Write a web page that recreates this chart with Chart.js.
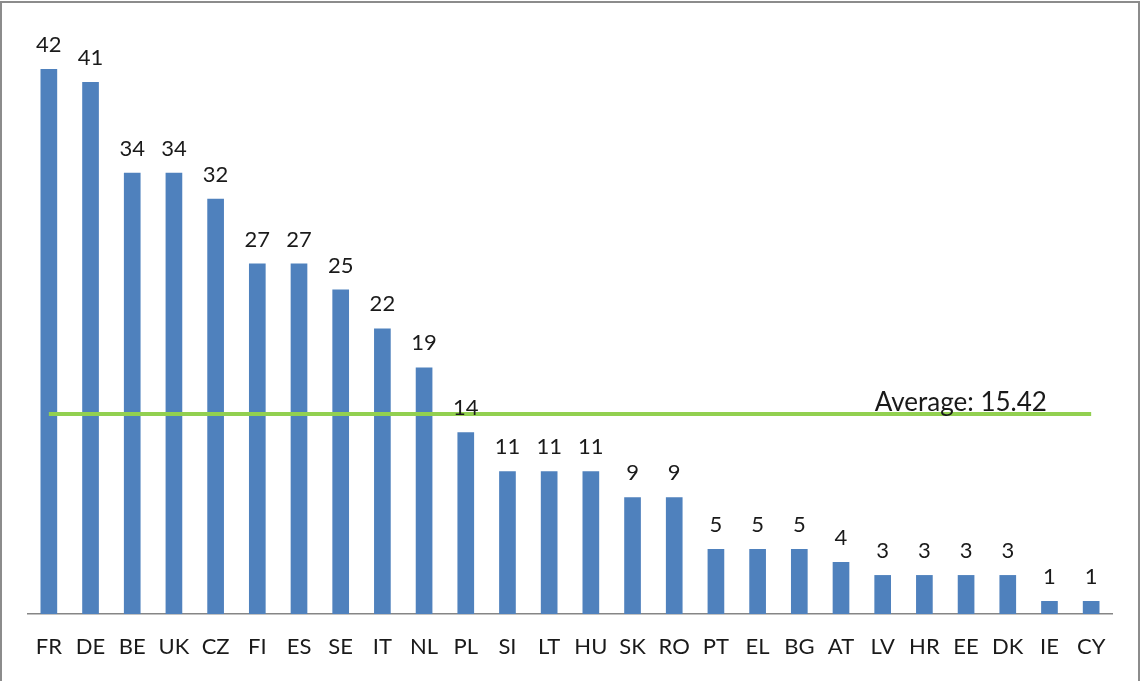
<!DOCTYPE html>
<html>
<head>
<meta charset="utf-8">
<script src="https://cdn.jsdelivr.net/npm/chart.js@4.4.1/dist/chart.umd.min.js"></script>
<style>
  html, body { margin: 0; padding: 0; background: #fff; }
  #wrap { width: 1141px; height: 681px; position: relative; }
</style>
</head>
<body>
<div id="wrap"><canvas id="c" width="1141" height="681"></canvas></div>
<script>
const categories = ['FR','DE','BE','UK','CZ','FI','ES','SE','IT','NL','PL','SI','LT','HU','SK','RO','PT','EL','BG','AT','LV','HR','EE','DK','IE','CY'];
const values = [42,41,34,34,32,27,27,25,22,19,14,11,11,11,9,9,5,5,5,4,3,3,3,3,1,1];
const averageValue = 15.42;
const averageLabel = 'Average: 15.42';
const averageStart = 'FR';
const averageEnd = 'CY';

const FONT = 'Lato, "Liberation Sans", sans-serif';

const decorPlugin = {
  id: 'decor',
  beforeDraw(chart) {
    const ctx = chart.ctx;
    ctx.save();
    ctx.fillStyle = '#ffffff';
    ctx.fillRect(0, 0, chart.width, chart.height);
    ctx.restore();
  },
  afterDatasetsDraw(chart) {
    const ctx = chart.ctx;
    const meta = chart.getDatasetMeta(1);
    ctx.save();
    ctx.fillStyle = '#1a1a1a';
    ctx.font = '22px ' + FONT;
    ctx.textAlign = 'center';
    ctx.textBaseline = 'alphabetic';
    meta.data.forEach((bar, i) => {
      ctx.fillText(String(values[i]), bar.x, bar.y - 17);
    });
    // average label
    const xs = chart.scales.x, ys = chart.scales.y;
    const ax = xs.getPixelForValue(20) - 8;
    const ay = ys.getPixelForValue(averageValue) - 3;
    ctx.font = '26px ' + FONT;
    ctx.textAlign = 'left';
    ctx.fillText(averageLabel, ax, ay);
    ctx.restore();
  },
  afterDraw(chart) {
    const ctx = chart.ctx;
    ctx.save();
    ctx.strokeStyle = '#8c8c8c';
    ctx.lineWidth = 2;
    ctx.beginPath();
    ctx.moveTo(1, chart.height + 2);
    ctx.lineTo(1, 2);
    ctx.lineTo(chart.width - 2, 2);
    ctx.lineTo(chart.width - 2, chart.height + 2);
    ctx.stroke();
    ctx.restore();
  }
};

new Chart(document.getElementById('c'), {
  data: {
    labels: categories,
    datasets: [
      {
        type: 'line',
        data: [{x: averageStart, y: averageValue}, {x: averageEnd, y: averageValue}],
        borderColor: '#92D050',
        borderWidth: 4,
        pointRadius: 0,
        order: 1
      },
      {
        type: 'bar',
        data: values,
        backgroundColor: '#4F81BD',
        borderWidth: 0,
        categoryPercentage: 1,
        barPercentage: 0.4,
        order: 2
      }
    ]
  },
  options: {
    responsive: false,
    devicePixelRatio: 1,
    animation: false,
    layout: { padding: { left: 28, right: 29, top: 30, bottom: 0.6 } },
    plugins: { legend: { display: false }, tooltip: { enabled: false } },
    scales: {
      x: {
        grid: { display: false, drawTicks: false },
        border: { display: true, color: '#868686', width: 1.5 },
        ticks: { font: { family: FONT, size: 22 }, color: '#1a1a1a', padding: 20, autoSkip: false, maxRotation: 0 }
      },
      y: { display: false, min: 0, max: 45 }
    }
  },
  plugins: [decorPlugin]
});
</script>
</body>
</html>
